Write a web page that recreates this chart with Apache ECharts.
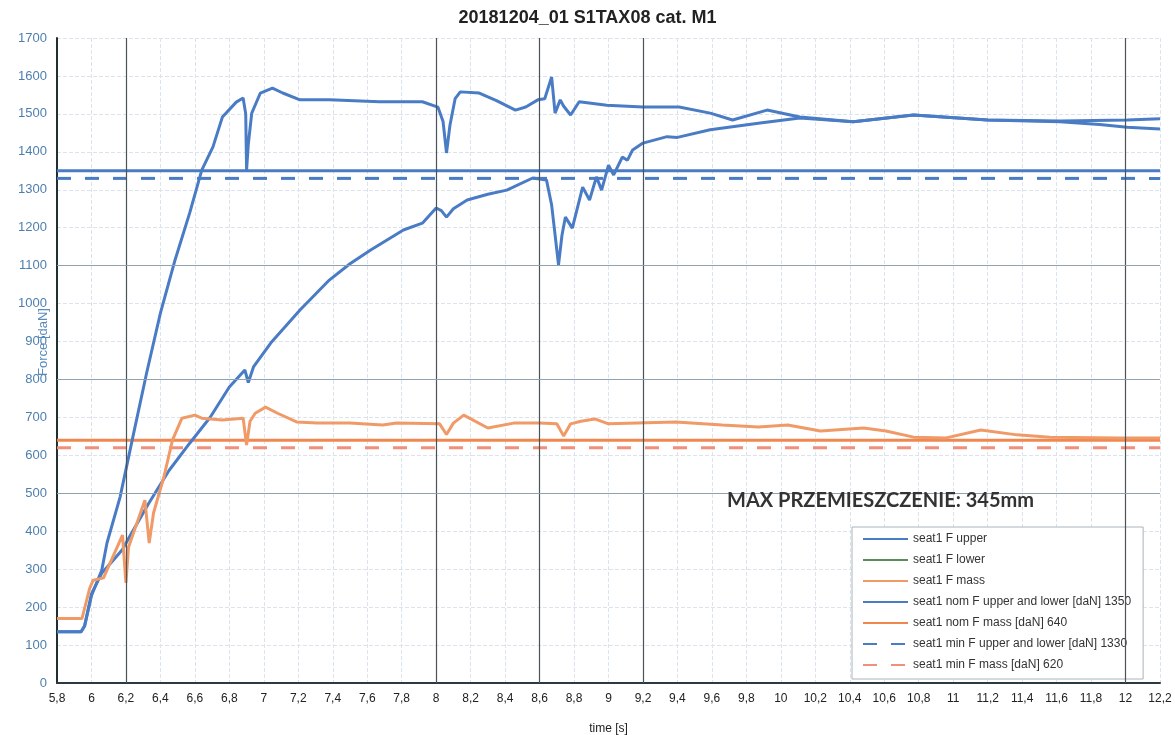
<!DOCTYPE html>
<html>
<head>
<meta charset="utf-8">
<script src="https://cdn.jsdelivr.net/npm/echarts@6/dist/echarts.min.js"></script>
<style>html,body{margin:0;padding:0;background:#fff}#c{width:1175px;height:735px}</style>
</head>
<body>
<div id="c"></div>
<script>
// ---- data ----
const xTickLabels = ['5,8','6','6,2','6,4','6,6','6,8','7','7,2','7,4','7,6','7,8','8','8,2','8,4','8,6','8,8','9','9,2','9,4','9,6','9,8','10','10,2','10,4','10,6','10,8','11','11,2','11,4','11,6','11,8','12','12,2'];
const yTickValues = [0,100,200,300,400,500,600,700,800,900,1000,1100,1200,1300,1400,1500,1600,1700];

const upperT = [5.80,5.94,5.96,6.00,6.06,6.09,6.166,6.24,6.32,6.40,6.485,6.57,6.64,6.705,6.76,6.84,6.88,6.895,6.90,6.91,6.93,6.98,7.05,7.11,7.21,7.38,7.67,7.92,8.01,8.04,8.06,8.08,8.11,8.14,8.25,8.35,8.46,8.52,8.59,8.63,8.67,8.69,8.72,8.74,8.78,8.83,8.99,9.20,9.41,9.59,9.72,9.92,10.11,10.42,10.77,11.2,11.62,11.85,12.01,12.2];
const upperV = [135,135,150,230,298,369,490,648,817,975,1115,1239,1352,1413,1492,1531,1542,1500,1352,1420,1502,1555,1568,1555,1537,1537,1532,1532,1518,1480,1397,1470,1540,1558,1555,1535,1510,1518,1537,1540,1597,1502,1537,1520,1497,1532,1523,1518,1518,1502,1484,1510,1492,1479,1497,1484,1479,1472,1465,1460];

const lowerT = [5.80,5.94,5.96,6.00,6.06,6.12,6.18,6.22,6.33,6.45,6.57,6.69,6.80,6.89,6.91,6.94,7.04,7.21,7.38,7.50,7.62,7.81,7.92,8.00,8.03,8.06,8.10,8.18,8.30,8.41,8.56,8.64,8.67,8.71,8.73,8.75,8.79,8.85,8.89,8.93,8.96,9.00,9.03,9.08,9.11,9.14,9.20,9.34,9.40,9.59,9.88,10.11,10.42,10.77,11.2,11.62,12.01,12.2];
const lowerV = [135,135,150,235,290,320,352,385,472,560,632,701,780,825,792,833,896,983,1062,1105,1141,1194,1212,1252,1245,1228,1250,1273,1288,1299,1331,1326,1260,1102,1180,1228,1199,1307,1273,1334,1299,1365,1339,1386,1378,1405,1423,1440,1438,1458,1476,1489,1479,1497,1484,1481,1484,1487];

const massT = [5.80,5.945,5.99,6.01,6.07,6.18,6.20,6.215,6.31,6.335,6.36,6.42,6.47,6.525,6.60,6.64,6.76,6.88,6.90,6.92,6.95,7.01,7.08,7.19,7.31,7.50,7.69,7.77,8.02,8.06,8.10,8.16,8.30,8.45,8.60,8.70,8.74,8.78,8.84,8.92,9.00,9.39,9.66,9.87,10.04,10.23,10.48,10.61,10.77,10.96,11.16,11.37,11.56,11.97,12.2];
const massV = [170,170,250,271,277,390,264,358,482,369,448,543,640,698,706,698,693,698,627,690,711,727,711,688,685,685,680,685,683,655,685,706,672,685,685,683,651,683,690,696,683,688,680,675,680,664,672,664,648,646,667,654,648,646,646];

const nomUpper = 1350, nomMass = 640, minUpper = 1330, minMass = 620;
const xRange = [5.8, 12.2];
const darkVerticals = [6.2, 8, 8.6, 9.2, 12];
const darkHorizontals = [500, 800, 1100];

const titleText = '20181204_01 S1TAX08 cat. M1';
const noteText = 'MAX PRZEMIESZCZENIE: 345mm';
const yName = 'Force [daN]';
const names = ['seat1 F upper','seat1 F lower','seat1 F mass','seat1 nom F upper and lower [daN] 1350','seat1 nom F mass [daN] 640','seat1 min F upper and lower [daN] 1330','seat1 min F mass [daN] 620'];

// ---- build ----
const zip = (t, v) => t.map((x, i) => [x, v[i]]);
const hline = v => xRange.map(x => [x, v]);
const BLUE = '#4a7cc6', ORANGE = '#f0874f', MASS = '#f09a68', GREEN = '#5b8c5e';
const FONT = 'Liberation Sans, Arial, sans-serif';

const chart = echarts.init(document.getElementById('c'), null, {renderer: 'canvas'});
const lineSeries = (name, data, color, width, type, z) => ({
  name, type: 'line', data, symbol: 'none', showSymbol: false, animation: false, z: z || 3,
  lineStyle: {color, width, type: type || 'solid'}, itemStyle: {color}
});

chart.setOption({
  animation: false,
  backgroundColor: '#ffffff',
  title: {text: titleText, left: 'center', top: 4,
    textStyle: {fontFamily: FONT, fontSize: 18, fontWeight: 'bold', color: '#222'}},
  grid: {left: 57, right: 15, top: 38, bottom: 52, containLabel: false, outerBoundsMode: 'none'},
  xAxis: {
    type: 'value', min: xRange[0], max: xRange[1], interval: 0.2,
    name: 'time [s]', nameLocation: 'middle', nameGap: 40,
    nameTextStyle: {fontFamily: FONT, fontSize: 12, color: '#222'},
    axisLine: {lineStyle: {color: '#2a3a40', width: 2}},
    axisTick: {show: false},
    axisLabel: {fontFamily: FONT, fontSize: 12, color: '#222', margin: 10,
      formatter: v => xTickLabels[Math.round((v - xRange[0]) / 0.2)] || ''},
    splitLine: {show: true, lineStyle: {color: '#dbe4ec', width: 1, type: 'dashed'}}
  },
  yAxis: {
    type: 'value', min: yTickValues[0], max: yTickValues[yTickValues.length - 1], interval: 100,
    axisLine: {show: true, lineStyle: {color: '#1f3035', width: 2}},
    axisTick: {show: false},
    axisLabel: {fontFamily: FONT, fontSize: 13, color: '#4d7fae', margin: 10,
      formatter: v => String(v)},
    splitLine: {show: true, lineStyle: {color: '#dbe4ec', width: 1, type: 'dashed'}}
  },
  legend: {
    orient: 'vertical', left: 852, top: 527,
    backgroundColor: '#ffffff', borderColor: '#aab4bc', borderWidth: 1, borderRadius: 0,
    padding: [6, 12, 8, 10], itemWidth: 45, itemHeight: 12, itemGap: 9,
    itemStyle: {opacity: 0, borderWidth: 0},
    textStyle: {fontFamily: FONT, fontSize: 12, color: '#333'},
    data: [
      {name: names[0]},
      {name: names[1], lineStyle: {color: GREEN}},
      {name: names[2]},
      {name: names[3]},
      {name: names[4]},
      {name: names[5]},
      {name: names[6]}
    ]
  },
  graphic: [{
    type: 'text', left: 727, top: 491, z: 10,
    style: {text: noteText, font: 'bold 20px Lato, "Open Sans", sans-serif', fill: '#333'}
  }, {
    type: 'text', x: 43, y: 342, rotation: Math.PI / 2, z: 10,
    style: {text: yName, font: '13px ' + FONT, fill: '#5a8bbf', align: 'center', verticalAlign: 'middle'}
  }],
  series: [
    {
      name: 'accents', type: 'line', data: [], symbol: 'none', silent: true, z: 1,
      markLine: {
        silent: true, symbol: 'none', label: {show: false}, animation: false,
        data: darkVerticals.map(x => ({xAxis: x, lineStyle: {color: '#4a5358', width: 1.2, type: 'solid'}}))
          .concat(darkHorizontals.map(y => ({yAxis: y, lineStyle: {color: '#8ea2b0', width: 1.2, type: 'solid'}})))
      }
    },
    lineSeries(names[0], zip(upperT, upperV), BLUE, 3),
    lineSeries(names[1], zip(lowerT, lowerV), BLUE, 3),
    lineSeries(names[2], zip(massT, massV), MASS, 3),
    lineSeries(names[3], hline(nomUpper), BLUE, 3, 'solid', 2),
    lineSeries(names[4], hline(nomMass), ORANGE, 3, 'solid', 2),
    lineSeries(names[5], hline(minUpper), BLUE, 3, [14, 14], 2),
    lineSeries(names[6], hline(minMass), '#f0907a', 3, [14, 14], 2)
  ]
});
</script>
</body>
</html>
